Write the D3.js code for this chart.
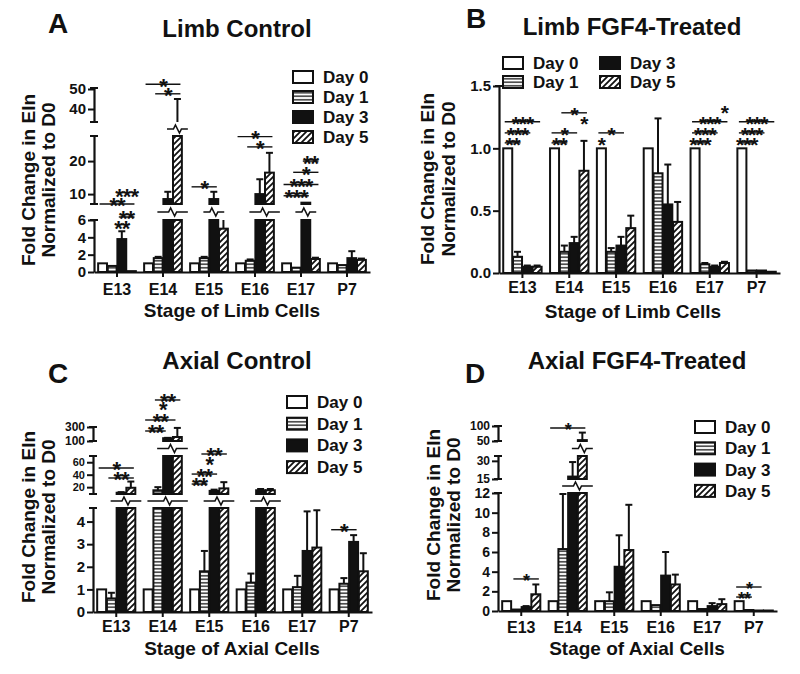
<!DOCTYPE html>
<html>
<head>
<meta charset="utf-8">
<title>Eln fold change</title>
<script src="https://d3js.org/d3.v7.min.js"></script>
<style>
  body { margin: 0; background: #fff; }
  svg text { font-family: "Liberation Sans", Arial, Helvetica, sans-serif; font-weight: bold; fill: #111; }
</style>
</head>
<body>
<svg id="fig" width="800" height="674"></svg>
<script>
var stages = ["E13", "E14", "E15", "E16", "E17", "P7"];
var days = ["Day 0", "Day 1", "Day 3", "Day 5"];

// rows = stage, columns = Day 0, Day 1, Day 3, Day 5
var limbCtrlMean = [[1, 0.7, 3.8, 0.1], [1, 1.6, 8.5, 28], [1, 1.6, 8.5, 5], [1, 1.3, 10, 16.5], [1, 0.5, 7.4, 1.5], [1, 0.8, 1.6, 1.4]];
var limbCtrlErr  = [[0, 0, 0.9, 0], [0, 0.15, 2.2, 17], [0, 0.15, 2.2, 1.2], [0, 0.15, 4.5, 6], [0, 0, 0, 0.15], [0, 0, 0.8, 0.15]];
var limbCtrlTicks = [[0, 2, 4, 6], [10, 20], [40, 50]];

var limbFgfMean = [[1, 0.13, 0.05, 0.05], [1, 0.17, 0.24, 0.82], [1, 0.17, 0.22, 0.36], [1, 0.8, 0.55, 0.41], [1, 0.07, 0.05, 0.08], [1, 0.02, 0.02, 0.01]];
var limbFgfErr  = [[0, 0.04, 0.01, 0.01], [0, 0.05, 0.05, 0.24], [0, 0.03, 0.07, 0.1], [0, 0.44, 0.32, 0.16], [0, 0.01, 0.01, 0.01], [0, 0, 0, 0]];
var limbFgfTicks = [[0, 0.5, 1, 1.5]];

var axialCtrlMean = [[1, 0.6, 11, 19], [1, 15, 140, 157], [1, 1.8, 14, 18], [1, 1.3, 15, 15], [1, 1.1, 2.7, 2.85], [1, 1.25, 3.1, 1.8]];
var axialCtrlErr  = [[0, 0.25, 1, 10], [0, 5, 5, 130], [0, 0.9, 2, 10], [0, 0.4, 2, 2], [0, 0.5, 1.75, 1.65], [0, 0.25, 0.3, 0.8]];
var axialCtrlTicks = [[0, 1, 2, 3, 4], [20, 40, 60], [100, 300]];

var axialFgfMean = [[1, 0.15, 0.4, 1.7], [1, 6.3, 17, 53], [1, 1.0, 4.5, 6.2], [1, 0.6, 3.6, 2.7], [1, 0.2, 0.5, 0.7], [1, 0.1, 0.05, 0.05]];
var axialFgfErr  = [[0, 0, 0.1, 1.0], [0, 5.6, 12, 25], [0, 0.9, 3.2, 4.6], [0, 0, 2.4, 1.0], [0, 0, 0.3, 0.5], [0, 0, 0, 0]];
var axialFgfTicks = [[0, 2, 4, 6, 8, 10, 12], [15, 30], [50, 100]];

// significance: [stage, from bar, to bar, level, stars]
var limbCtrlNotes = [[0, 0, 3, 7, "**"], [0, 2, 3, 6.19, "**"], [0, 2, 2, 5.3, "**"], [0, 2.5, 2.5, 10, "***"],
  [1, 0, 3, 52.4, "*"], [1, 1, 3, 47.6, "*"], [2, 0, 2, 12.2, "*"], [3, 0, 3, 27.4, "*"], [3, 1, 3, 24.3, "*"],
  [4, 0, 2, 9.5, "***"], [4, 0, 3, 12.9, "***"], [4, 1, 3, 16.6, "*"], [4, 2, 3, 20, "**"]];
var limbFgfNotes = [[0, 0, 1, 1.044, "**"], [0, 0, 2, 1.124, "***"], [0, 0, 3, 1.213, "***"],
  [1, 0, 1, 1.044, "**"], [1, 0, 2, 1.124, "*"], [1, 3, 3, 1.21, "*"], [1, 1, 3, 1.285, "*"],
  [2, 0, 0, 1.044, "*"], [2, 0, 2, 1.124, "*"],
  [4, 0, 1, 1.044, "***"], [4, 0, 2, 1.124, "***"], [4, 0, 3, 1.213, "***"], [4, 3, 3, 1.3, "*"],
  [5, 0, 1, 1.044, "***"], [5, 0, 2, 1.124, "***"], [5, 0, 3, 1.213, "***"]];
var axialCtrlNotes = [[0, 0, 3, 50.7, "*"], [0, 1, 3, 34.7, "**"],
  [1, 0, 1.5, 243, "**"], [1, 0, 2.5, 400, "**"], [1, 1.5, 1.5, 572, "*"], [1, 1, 3, 686, "**"],
  [2, 0, 1, 25, "**"], [2, 0, 2, 41, "**"], [2, 1.5, 1.5, 59, "*"], [2, 1, 3, 74, "**"], [5, 0, 2, 3.64, "*"]];
var axialFgfNotes = [[0, 1, 3, 3.26, "*"], [1, 0, 3, 93.3, "*"], [5, 0, 1, 1.42, "**"], [5, 0, 2, 2.44, "*"]];

var svg = d3.select("#fig");
var defs = svg.append("defs");
var p1 = defs.append("pattern").attr("id", "hst").attr("patternUnits", "userSpaceOnUse").attr("width", 4).attr("height", 3.5);
p1.append("rect").attr("width", 4).attr("height", 3.5).attr("fill", "#fff");
p1.append("line").attr("x1", 0).attr("x2", 4).attr("y1", 1.75).attr("y2", 1.75).attr("stroke", "#111").attr("stroke-width", 1.3);
var p2 = defs.append("pattern").attr("id", "diag").attr("patternUnits", "userSpaceOnUse").attr("width", 6).attr("height", 6);
p2.append("rect").attr("width", 6).attr("height", 6).attr("fill", "#fff");
p2.append("path").attr("d", "M-1,7 L7,-1 M-4,4 L4,-4 M2,10 L10,2").attr("stroke", "#111").attr("stroke-width", 1.8);
var fills = ["#fff", "url(#hst)", "#111", "url(#diag)"];

var panels = [
  {letter: "A", title: "Limb Control", xt: "Stage of Limb Cells", mean: limbCtrlMean, err: limbCtrlErr, ticks: limbCtrlTicks, notes: limbCtrlNotes,
   x0: 94, x1: 370, seg: [[0, 6], [7, 27.6], [33.5, 50.5]], px: [[272, 220], [204, 136], [122, 88]], tf: [15, 15, 15], fmt: "d",
   lxy: [48, 33], txy: [237, 37], ytx: [35, 55], yty: 180, xly: 295, xtx: 232, xty: 317, star: 22,
   leg: {x: 293, y: 77, dy: 20, dx: 0, rows: 4}},
  {letter: "B", title: "Limb FGF4-Treated", xt: "Stage of Limb Cells", mean: limbFgfMean, err: limbFgfErr, ticks: limbFgfTicks, notes: limbFgfNotes,
   x0: 499, x1: 780, seg: [[0, 1.5]], px: [[273, 86]], tf: [15], fmt: ".1f",
   lxy: [466, 28], txy: [632, 35], ytx: [434, 455], yty: 179, xly: 293, xtx: 633, xty: 318, star: 21,
   leg: {x: 503, y: 63, dy: 19, dx: 97, rows: 2}},
  {letter: "C", title: "Axial Control", xt: "Stage of Axial Cells", mean: axialCtrlMean, err: axialCtrlErr, ticks: axialCtrlTicks, notes: axialCtrlNotes,
   x0: 93, x1: 372, seg: [[0, 4.6], [9, 70], [100, 300]], px: [[612, 508], [494, 456], [441, 427]], tf: [15, 11, 12], fmt: "d",
   lxy: [48, 383], txy: [237, 369], ytx: [35, 55], yty: 517, xly: 632, xtx: 232, xty: 655, star: 22,
   leg: {x: 287, y: 402, dy: 21.7, dx: 0, rows: 4}},
  {letter: "D", title: "Axial FGF4-Treated", xt: "Stage of Axial Cells", mean: axialFgfMean, err: axialFgfErr, ticks: axialFgfTicks, notes: axialFgfNotes,
   x0: 498, x1: 777, seg: [[0, 12], [15, 34], [50, 100]], px: [[611, 493], [479, 456], [441, 426]], tf: [14, 12, 12], fmt: "d",
   lxy: [465, 383], txy: [637, 369], ytx: [440, 460], yty: 515, xly: 633, xtx: 637, xty: 655, star: 18,
   leg: {x: 695, y: 427, dy: 21.3, dx: 0, rows: 4}}
];

panels.forEach(drawPanel);

function drawPanel(cfg) {
  var g = svg.append("g");
  var dom = [], rng = [];
  cfg.seg.forEach(function(s, k) { dom.push(s[0], s[1]); rng.push(cfg.px[k][0], cfg.px[k][1]); });
  var y = d3.scaleLinear().domain(dom).range(rng);
  var x = d3.scaleBand().domain(stages).range([cfg.x0, cfg.x1]).paddingInner(0.18).paddingOuter(0.09);
  var xb = d3.scaleBand().domain(d3.range(days.length)).range([0, x.bandwidth()]).paddingInner(0.08);
  var bw = xb.bandwidth();
  function bx(i, j) { return x(stages[i]) + xb(j); }
  function bc(i, b) { return x(stages[i]) + xb(0) + b * xb.step() + bw / 2; }

  // bar pieces, one per axis segment
  var pieces = [], errs = [], caps = [];
  cfg.mean.forEach(function(row, i) {
    row.forEach(function(v, j) {
      var e = cfg.err[i][j], top = v + e;
      cfg.seg.forEach(function(s) {
        if (v > s[0]) pieces.push({i: i, j: j, lo: s[0], hi: Math.min(v, s[1])});
        if (e > 0) {
          var a = Math.max(v, s[0]), b = Math.min(top, s[1]);
          if (b > a) errs.push({i: i, j: j, lo: a, hi: b});
          if (top >= s[0] && top <= s[1]) caps.push({i: i, j: j, v: top});
        }
      });
    });
  });

  g.selectAll("line.err").data(errs).join("line").attr("class", "err")
    .attr("x1", function(d) { return bx(d.i, d.j) + bw / 2; })
    .attr("x2", function(d) { return bx(d.i, d.j) + bw / 2; })
    .attr("y1", function(d) { return y(d.lo); })
    .attr("y2", function(d) { return y(d.hi); })
    .attr("stroke", "#111").attr("stroke-width", 2);
  g.selectAll("line.cap").data(caps).join("line").attr("class", "cap")
    .attr("x1", function(d) { return bx(d.i, d.j) + bw / 2 - 3.5; })
    .attr("x2", function(d) { return bx(d.i, d.j) + bw / 2 + 3.5; })
    .attr("y1", function(d) { return y(d.v); })
    .attr("y2", function(d) { return y(d.v); })
    .attr("stroke", "#111").attr("stroke-width", 2);

  g.selectAll("rect.bar").data(pieces).join("rect").attr("class", "bar")
    .attr("x", function(d) { return bx(d.i, d.j); })
    .attr("width", bw)
    .attr("y", function(d) { return y(d.hi); })
    .attr("height", function(d) { return Math.max(0, y(d.lo) - y(d.hi)); })
    .attr("fill", function(d) { return fills[d.j]; })
    .attr("stroke", "#111").attr("stroke-width", 2);

  // break marks where a bar runs into the next segment
  var breaks = [];
  for (var k = 0; k < cfg.seg.length - 1; k++) {
    cfg.mean.forEach(function(row, i) {
      var cross = [];
      row.forEach(function(v, j) { if (v + cfg.err[i][j] > cfg.seg[k + 1][0]) cross.push(j); });
      if (cross.length) breaks.push({i: i, k: k, a: d3.min(cross), b: d3.max(cross)});
    });
  }
  g.selectAll("path.brk").data(breaks).join("path").attr("class", "brk")
    .attr("d", function(d) {
      var ym = (y(cfg.seg[d.k][1]) + y(cfg.seg[d.k + 1][0])) / 2;
      var xa = bx(d.i, d.a) - 6, xz = bx(d.i, d.b) + bw + 6, xm = (xa + xz) / 2;
      return "M" + xa + "," + ym + "H" + (xm - 4) + "L" + (xm - 2) + "," + (ym - 4) + "L" + (xm + 2) + "," + (ym + 4) + "L" + (xm + 4) + "," + ym + "H" + xz;
    })
    .attr("fill", "none").attr("stroke", "#111").attr("stroke-width", 1.6);

  // y axis segments
  cfg.seg.forEach(function(s, k) {
    var sy = d3.scaleLinear().domain(s).range(cfg.px[k]);
    var ax = d3.axisLeft(sy).tickValues(cfg.ticks[k]).tickSize(6).tickSizeOuter(0).tickPadding(2)
      .tickFormat(d3.format(cfg.fmt));
    var ga = g.append("g").attr("transform", "translate(" + cfg.x0 + ",0)").call(ax);
    ga.select(".domain").attr("stroke", "#111").attr("stroke-width", 2.2);
    ga.selectAll(".tick line").attr("stroke", "#111").attr("stroke-width", 2);
    ga.selectAll("text").style("font-size", cfg.tf[k] + "px");
    s.forEach(function(v, e) {
      if (k === 0 && e === 0) return;
      g.append("line").attr("x1", cfg.x0 - 4).attr("x2", cfg.x0 + 4)
        .attr("y1", sy(v)).attr("y2", sy(v)).attr("stroke", "#111").attr("stroke-width", 2);
    });
  });

  // x axis
  var y0 = y(0);
  var gx = g.append("g").attr("transform", "translate(0," + y0 + ")")
    .call(d3.axisBottom(x).tickSize(5).tickSizeOuter(0));
  gx.select(".domain").attr("stroke", "#111").attr("stroke-width", 2.2);
  gx.selectAll(".tick line").attr("stroke", "#111").attr("stroke-width", 2);
  gx.selectAll("text").attr("y", cfg.xly - y0).attr("dy", 0).style("font-size", "16px");

  // significance
  var lines = cfg.notes.filter(function(n) { return n[2] > n[1]; });
  g.selectAll("line.sig").data(lines).join("line").attr("class", "sig")
    .attr("x1", function(n) { return bc(n[0], n[1]) - 3; })
    .attr("x2", function(n) { return bc(n[0], n[2]) + 3; })
    .attr("y1", function(n) { return y(n[3]); })
    .attr("y2", function(n) { return y(n[3]); })
    .attr("stroke", "#111").attr("stroke-width", 1.4);
  g.selectAll("text.sig").data(cfg.notes).join("text").attr("class", "sig")
    .attr("x", function(n) { return (bc(n[0], n[1]) + bc(n[0], n[2])) / 2; })
    .attr("y", function(n) { return y(n[3]) + cfg.star * 0.43; })
    .attr("text-anchor", "middle").style("font-size", cfg.star + "px").style("letter-spacing", "-1px")
    .text(function(n) { return n[4]; });

  // legend
  var lg = g.append("g");
  days.forEach(function(dname, j) {
    var col = Math.floor(j / cfg.leg.rows), row = j % cfg.leg.rows;
    var lx = cfg.leg.x + col * cfg.leg.dx, ly = cfg.leg.y + row * cfg.leg.dy;
    lg.append("rect").attr("x", lx).attr("y", ly - 6).attr("width", 20).attr("height", 12)
      .attr("fill", fills[j]).attr("stroke", "#111").attr("stroke-width", 2);
    lg.append("text").attr("x", lx + 30).attr("y", ly + 6).style("font-size", "17px").text(dname);
  });

  // texts
  g.append("text").attr("x", cfg.lxy[0]).attr("y", cfg.lxy[1]).style("font-size", "28px").text(cfg.letter);
  g.append("text").attr("x", cfg.txy[0]).attr("y", cfg.txy[1]).attr("text-anchor", "middle").style("font-size", "24px").text(cfg.title);
  g.append("text").attr("x", cfg.xtx).attr("y", cfg.xty).attr("text-anchor", "middle").style("font-size", "19px").text(cfg.xt);
  ["Fold Change in Eln", "Normalized to D0"].forEach(function(t, n) {
    g.append("text").attr("transform", "translate(" + cfg.ytx[n] + "," + cfg.yty + ") rotate(-90)")
      .attr("text-anchor", "middle").style("font-size", "19px").text(t);
  });
}
</script>
</body>
</html>
